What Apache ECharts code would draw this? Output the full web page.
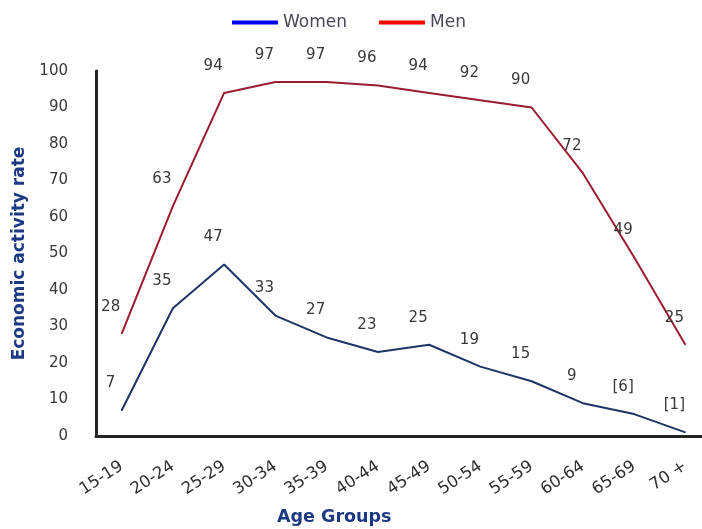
<!DOCTYPE html>
<html>
<head>
<meta charset="utf-8">
<script src="https://cdn.jsdelivr.net/npm/echarts@6/dist/echarts.min.js"></script>
<style>
  html, body { margin: 0; padding: 0; background: #fff; }
  #chart { width: 702px; height: 529px; }
</style>
</head>
<body>
<div id="chart"></div>
<script>
// Economic activity rate by age group and sex
const ageGroups = ['15-19', '20-24', '25-29', '30-34', '35-39', '40-44', '45-49', '50-54', '55-59', '60-64', '65-69', '70 +'];
const women = [7, 35, 47, 33, 27, 23, 25, 19, 15, 9, 6, 1];
const men = [28, 63, 94, 97, 97, 96, 94, 92, 90, 72, 49, 25];
// values shown in brackets are less reliable estimates
const bracketed = [false, false, false, false, false, false, false, false, false, false, true, true];
const yTicks = { min: 0, max: 100, interval: 10 };

const FONT = '"DejaVu Sans", Verdana, sans-serif';
const TITLE_BLUE = '#1c3a84';
const TEXT = '#3a3836';

const labelCfg = (brackets) => ({
  show: true,
  position: 'top',
  distance: 5,
  offset: [-11, -14],
  color: TEXT,
  fontFamily: FONT,
  fontSize: 15,
  formatter: (p) => brackets && brackets[p.dataIndex] ? '[' + p.value + ']' : String(p.value)
});

const chart = echarts.init(document.getElementById('chart'), null, { renderer: 'canvas' });
chart.setOption({
  animation: false,
  backgroundColor: '#ffffff',
  textStyle: { fontFamily: FONT },
  title: {
    text: 'Age Groups',
    left: 277,
    top: 508,
    padding: 0,
    textStyle: { color: TITLE_BLUE, fontSize: 17.5, fontWeight: 'bold', fontFamily: FONT }
  },
  legend: {
    left: 232,
    top: 14,
    padding: 0,
    itemWidth: 46,
    itemHeight: 4,
    itemGap: 32,
    icon: 'rect',
    textStyle: { color: '#4a4858', fontSize: 17, fontFamily: FONT },
    data: [
      { name: 'Women', itemStyle: { color: '#0000ff' } },
      { name: 'Men', itemStyle: { color: '#ff0000' } }
    ]
  },
  grid: {
    left: 96, width: 615, top: 71, bottom: 93,
    containLabel: false,
    outerBoundsMode: 'none'
  },
  xAxis: {
    type: 'category',
    data: ageGroups,
    boundaryGap: true,
    axisLine: { lineStyle: { color: '#222', width: 3 } },
    axisTick: { show: false },
    axisLabel: {
      rotate: 33,
      margin: 29,
      interval: 0,
      color: '#2e2e2e',
      fontSize: 16.5,
      fontFamily: FONT
    }
  },
  yAxis: {
    type: 'value',
    min: yTicks.min,
    max: yTicks.max,
    interval: yTicks.interval,
    name: 'Economic activity rate',
    nameLocation: 'middle',
    nameGap: 63,
    nameTextStyle: { color: TITLE_BLUE, fontSize: 17, fontWeight: 'bold', fontFamily: FONT },
    axisLine: { show: true, lineStyle: { color: '#222', width: 3 } },
    axisTick: { show: false },
    splitLine: { show: false },
    axisLabel: { color: TEXT, fontSize: 15, margin: 28, padding: [3, 0, 0, 0], fontFamily: FONT }
  },
  series: [
    {
      name: 'Women',
      type: 'line',
      data: women,
      symbol: 'circle',
      symbolSize: 1,
      lineStyle: { color: '#1d3566', width: 2 },
      itemStyle: { color: '#1d3566' },
      label: labelCfg(bracketed),
      z: 3
    },
    {
      name: 'Men',
      type: 'line',
      data: men,
      symbol: 'circle',
      symbolSize: 1,
      lineStyle: { color: '#9a1c30', width: 2 },
      itemStyle: { color: '#9a1c30' },
      label: labelCfg(null),
      z: 2
    }
  ]
});
</script>
</body>
</html>
